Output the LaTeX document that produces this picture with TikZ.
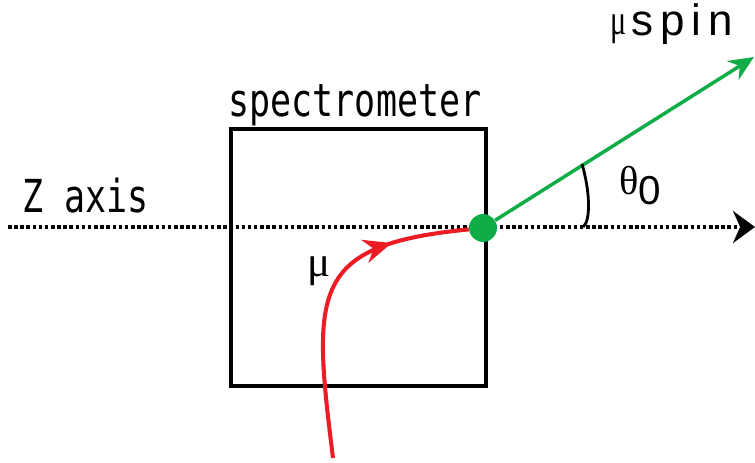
\documentclass[tikz,border=0pt]{standalone}
\usepackage{fontspec}
\usepackage{graphicx}
\usepackage{xcolor}
\newfontfamily\labelfont{DejaVu Sans Mono}
\newfontfamily\greekfont{Liberation Serif}
\newfontfamily\spinfont[LetterSpace=16]{Liberation Sans}
\newfontfamily\digitfont{Liberation Sans}
\usetikzlibrary{arrows.meta,decorations.markings}
\definecolor{spingreen}{RGB}{16,172,72}
\definecolor{muonred}{RGB}{236,28,36}

\begin{document}
\begin{tikzpicture}[
	x=0.02cm, y=0.02cm,
	lbl/.style={
		inner sep=0pt,
		font=\labelfont\fontsize{19.9}{22}\selectfont
	},
	greek/.style={
		inner sep=0pt,
		font=\greekfont\fontsize{24.5}{26}\selectfont
	},
	spectro/.style={
		draw, line width=2pt, rectangle,
		minimum width=5.1cm, minimum height=5.14cm, inner sep=0pt
	},
	zaxis/.style={
		line width=2pt, dash pattern=on 2pt off 1.5pt,
		-{Stealth[length=0.44cm, width=0.64cm]}
	},
	spin/.style={
		spingreen, line width=2pt,
		-{Stealth[length=0.5cm, width=0.44cm]}
	},
	track/.style={
		muonred, line width=2.3pt,
		postaction={decorate},
		decoration={markings, mark=at position 0.76 with {\arrow{Stealth[length=0.56cm, width=0.48cm]}}}
	},
	dotnode/.style={
		circle, fill=spingreen, minimum size=0.56cm, inner sep=0pt
	},
	]
	\useasboundingbox (0,0) rectangle (755,463);
	
	\node[spectro] (spec) at (358.5,205.5) {};
	\node[lbl, anchor=base] (spectext) at (355,346) {\scalebox{1}[1.3]{spectrometer}};
	\node[lbl, anchor=base west] (ztext) at (22,250) {\scalebox{1}[1.3]{Z axis}};
	
	% z axis, dotted
	\coordinate (zstart) at (8,236);
	\coordinate (zend)   at (755,236);
	\draw[zaxis] (zstart) -- (zend);
	
	\node[dotnode] (dot) at (483,235) {};
	
	% muon track into the spectrometer
	\coordinate (mustart) at (333,5);
	\draw[track] (mustart) .. controls (312,173) and (310,218) .. (dot);
	\node[greek, anchor=base west] (mu) at (307,186) {μ};
	
	% spin direction and angle
	\coordinate (spintip) at (754,406);
	\draw[spin] (dot) -- (spintip);
	\coordinate (arcA) at (582,299);
	\coordinate (arcB) at (583,236);
	\draw[line width=1.6pt] (arcA) .. controls (590,272) and (591,242) .. (arcB);
	\node[greek, anchor=base west] (theta) at (619,268) {\fontsize{23}{26}\selectfont θ\raisebox{-0.2cm}{\digitfont 0}};
	\node[greek, anchor=base west] (spinmu) at (610,428) {\scalebox{0.7}[1]{μ}};
	\node[anchor=base west, inner sep=0pt, font=\spinfont\fontsize{25}{26}\selectfont] (spinlbl) at (631,427) {spin};
	
\end{tikzpicture}
\end{document}
